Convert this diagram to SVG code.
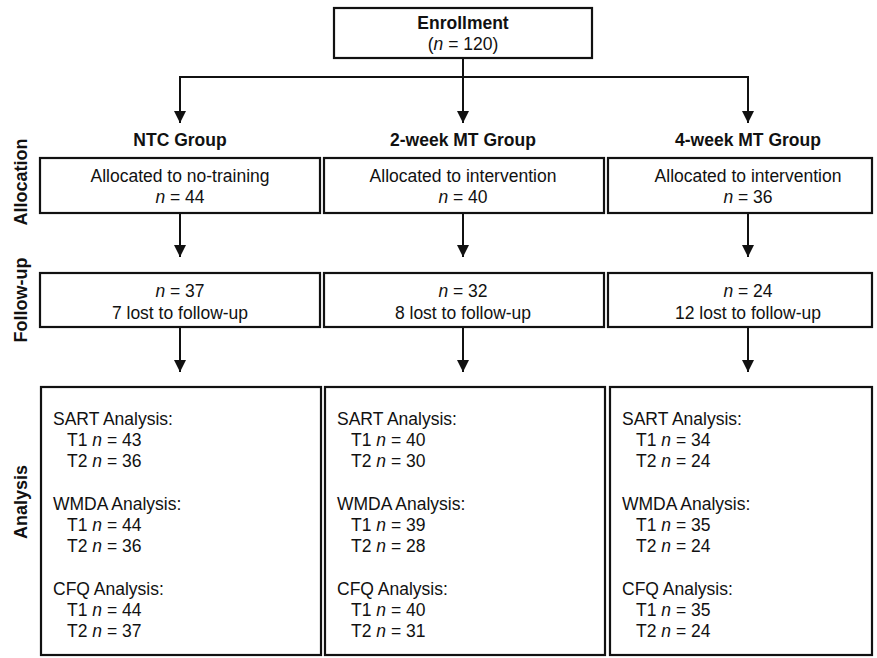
<svg xmlns="http://www.w3.org/2000/svg" width="877" height="658" viewBox="0 0 877 658">
<style>
.box{fill:#fff;stroke:#111;stroke-width:2.2}
.t{font-family:"Liberation Sans",Arial,sans-serif;font-size:17.5px;fill:#111}
.c{text-anchor:middle}
.b{font-weight:bold}
.side{font-family:"Liberation Sans",Arial,sans-serif;font-size:18px;font-weight:bold;fill:#111;text-anchor:middle}
.ln{stroke:#111;stroke-width:2;fill:none}
</style>
<defs>
<marker id="ah" viewBox="0 0 10 10" refX="10" refY="5" markerWidth="12" markerHeight="12" markerUnits="userSpaceOnUse" orient="auto">
<path d="M0,0 L10,5 L0,10 z" fill="#111"/>
</marker>
</defs>
<rect width="877" height="658" fill="#fff"/>

<g id="side-labels">
<text class="side" transform="translate(27,182) rotate(-90)">Allocation</text>
<text class="side" transform="translate(27,300) rotate(-90)">Follow-up</text>
<text class="side" transform="translate(27,502) rotate(-90)">Analysis</text>
</g>

<g id="connectors">
<line class="ln" x1="463" y1="58" x2="463" y2="77"/>
<line class="ln" x1="179" y1="77" x2="749" y2="77"/>
<line class="ln" x1="180" y1="76" x2="180" y2="123" marker-end="url(#ah)"/>
<line class="ln" x1="463" y1="76" x2="463" y2="123" marker-end="url(#ah)"/>
<line class="ln" x1="748" y1="76" x2="748" y2="123" marker-end="url(#ah)"/>
<line class="ln" x1="180" y1="213" x2="180" y2="257" marker-end="url(#ah)"/>
<line class="ln" x1="463" y1="213" x2="463" y2="257" marker-end="url(#ah)"/>
<line class="ln" x1="748" y1="213" x2="748" y2="257" marker-end="url(#ah)"/>
<line class="ln" x1="180" y1="327" x2="180" y2="372" marker-end="url(#ah)"/>
<line class="ln" x1="463" y1="327" x2="463" y2="372" marker-end="url(#ah)"/>
<line class="ln" x1="748" y1="327" x2="748" y2="372" marker-end="url(#ah)"/>
</g>

<g id="enrollment">
<rect class="box" x="334" y="8" width="258" height="50"/>
<text class="t c b" x="463" y="29">Enrollment</text>
<text class="t c" x="463" y="50">(<tspan font-style="italic">n</tspan> = 120)</text>
</g>

<g id="group-labels">
<text class="t c b" x="180" y="146">NTC Group</text>
<text class="t c b" x="463" y="146">2-week MT Group</text>
<text class="t c b" x="748" y="146">4-week MT Group</text>
</g>

<g id="alloc-ntc">
<rect class="box" x="40" y="158" width="280" height="55"/>
<text class="t c" x="180" y="182">Allocated to no-training</text>
<text class="t c" x="180" y="203"><tspan font-style="italic">n</tspan> = 44</text>
</g>
<g id="alloc-2wk">
<rect class="box" x="324" y="158" width="280" height="55"/>
<text class="t c" x="463" y="182">Allocated to intervention</text>
<text class="t c" x="463" y="203"><tspan font-style="italic">n</tspan> = 40</text>
</g>
<g id="alloc-4wk">
<rect class="box" x="608" y="158" width="264" height="55"/>
<text class="t c" x="748" y="182">Allocated to intervention</text>
<text class="t c" x="748" y="203"><tspan font-style="italic">n</tspan> = 36</text>
</g>

<g id="follow-ntc">
<rect class="box" x="40" y="273" width="280" height="54"/>
<text class="t c" x="180" y="297"><tspan font-style="italic">n</tspan> = 37</text>
<text class="t c" x="180" y="319">7 lost to follow-up</text>
</g>
<g id="follow-2wk">
<rect class="box" x="324" y="273" width="280" height="54"/>
<text class="t c" x="463" y="297"><tspan font-style="italic">n</tspan> = 32</text>
<text class="t c" x="463" y="319">8 lost to follow-up</text>
</g>
<g id="follow-4wk">
<rect class="box" x="608" y="273" width="264" height="54"/>
<text class="t c" x="748" y="297"><tspan font-style="italic">n</tspan> = 24</text>
<text class="t c" x="748" y="319">12 lost to follow-up</text>
</g>

<g id="analysis-ntc">
<rect class="box" x="41" y="387" width="280" height="268"/>
<text class="t" x="53" y="425">SART Analysis:</text>
<text class="t" x="67" y="446">T1 <tspan font-style="italic">n</tspan> = 43</text>
<text class="t" x="67" y="467">T2 <tspan font-style="italic">n</tspan> = 36</text>
<text class="t" x="53" y="510">WMDA Analysis:</text>
<text class="t" x="67" y="531">T1 <tspan font-style="italic">n</tspan> = 44</text>
<text class="t" x="67" y="552">T2 <tspan font-style="italic">n</tspan> = 36</text>
<text class="t" x="53" y="595">CFQ Analysis:</text>
<text class="t" x="67" y="616">T1 <tspan font-style="italic">n</tspan> = 44</text>
<text class="t" x="67" y="637">T2 <tspan font-style="italic">n</tspan> = 37</text>
</g>
<g id="analysis-2wk">
<rect class="box" x="325" y="387" width="280" height="268"/>
<text class="t" x="337" y="425">SART Analysis:</text>
<text class="t" x="351" y="446">T1 <tspan font-style="italic">n</tspan> = 40</text>
<text class="t" x="351" y="467">T2 <tspan font-style="italic">n</tspan> = 30</text>
<text class="t" x="337" y="510">WMDA Analysis:</text>
<text class="t" x="351" y="531">T1 <tspan font-style="italic">n</tspan> = 39</text>
<text class="t" x="351" y="552">T2 <tspan font-style="italic">n</tspan> = 28</text>
<text class="t" x="337" y="595">CFQ Analysis:</text>
<text class="t" x="351" y="616">T1 <tspan font-style="italic">n</tspan> = 40</text>
<text class="t" x="351" y="637">T2 <tspan font-style="italic">n</tspan> = 31</text>
</g>
<g id="analysis-4wk">
<rect class="box" x="610" y="387" width="262" height="268"/>
<text class="t" x="622" y="425">SART Analysis:</text>
<text class="t" x="636" y="446">T1 <tspan font-style="italic">n</tspan> = 34</text>
<text class="t" x="636" y="467">T2 <tspan font-style="italic">n</tspan> = 24</text>
<text class="t" x="622" y="510">WMDA Analysis:</text>
<text class="t" x="636" y="531">T1 <tspan font-style="italic">n</tspan> = 35</text>
<text class="t" x="636" y="552">T2 <tspan font-style="italic">n</tspan> = 24</text>
<text class="t" x="622" y="595">CFQ Analysis:</text>
<text class="t" x="636" y="616">T1 <tspan font-style="italic">n</tspan> = 35</text>
<text class="t" x="636" y="637">T2 <tspan font-style="italic">n</tspan> = 24</text>
</g>
</svg>
